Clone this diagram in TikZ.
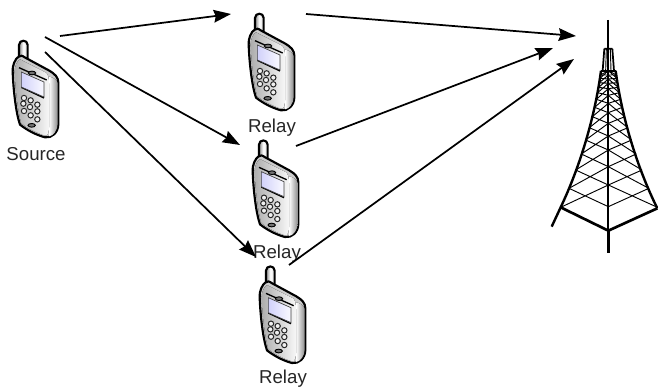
\documentclass[tikz,border=0pt]{standalone}
\usepackage{fontspec}
\setmainfont{Liberation Sans}
\usetikzlibrary{arrows.meta}
\tikzset{
  lab/.style={font=\fontsize{14}{16}\selectfont,text=black!85,inner sep=0pt},
  conn/.style={line width=1.3pt,-{Stealth[length=13pt,width=9.5pt,inset=1.5pt]}},
  outline/.style={draw=black,line width=1.6pt,line join=round},
  key/.style={draw=black!85,line width=.75pt,fill=black!6},
  leg/.style={line width=1.8pt,line cap=butt},
  lat/.style={line width=.7pt}
}
\newcommand{\phoneat}[2]{%
\begin{scope}[shift={(#1,#2)},x=.25pt,y=-.25pt]
  % antenna
  \draw[outline,left color=black!45,right color=black!15,middle color=white] (57,100) -- (57,45) .. controls (57,28) and (83,28) .. (83,45) -- (83,110) -- cycle;
  % body
  \draw[outline,fill=black!20]
    (38,125) .. controls (36,108) and (46,85) .. (56,80)
    .. controls (62,76) and (66,76) .. (74,82)
    -- (148,122) .. controls (165,132) and (175,142) .. (175,158)
    -- (175,282) .. controls (175,308) and (155,325) .. (135,322)
    .. controls (105,314) and (78,298) .. (60,284)
    .. controls (48,250) and (40,180) .. (38,125) -- cycle;
  % right strip
  \fill[left color=white,right color=black!45] (147,140) .. controls (160,142) and (172,150) .. (173,160) -- (173,282) .. controls (173,300) and (160,318) .. (147,319) -- cycle;
  % front face
  \fill[left color=black!32,right color=black!3] (44,124) .. controls (44,108) and (52,92) .. (60,88)
    -- (138,128) .. controls (144,132) and (147,145) .. (147,160)
    -- (147,292) .. controls (147,308) and (142,318) .. (135,317)
    .. controls (108,308) and (82,294) .. (64,280) .. controls (54,245) and (46,180) .. (44,124) -- cycle;
  \draw[line width=1pt] (57,113) -- (140,150) (64,172) -- (132,204);
  % screen
  \draw[black!75,line width=.5pt,left color=black!10!blue!18,right color=blue!2] (64,126) -- (132,156) -- (132,201) -- (64,171) -- cycle;
  % speaker and lower button
  \draw[black,line width=.7pt,fill=black!55] (96,129) ellipse (11 and 5.5);
  \draw[black,line width=.7pt,fill=black!55] (95,286) ellipse (11 and 5.5);
  % keypad
  \foreach \kx/\ky in {72/204,92/211,112/224,70/221,90/231,112/244,72/243,92/256,112/268}
    \draw[key] (\kx,\ky) circle (8);
\end{scope}}
\begin{document}
\begin{tikzpicture}[x=.75pt,y=-.75pt]
\useasboundingbox (0,0) rectangle (658,388);
\fill[white] (0,0) rectangle (658,388);
\phoneat{0}{30}
\phoneat{236}{3}
\phoneat{240}{129.7}
\phoneat{247}{255.7}
% tower
\begin{scope}[shift={(540,10)},x=.25pt,y=-.25pt]
  \foreach \ya/\dxa/\ca/\yb/\dxb/\cb in {592/143/590/535/118/525,535/118/525/480/98/470,480/98/470/432/81/420,432/81/420/390/68/378,390/68/378/353/57/340,353/57/340/320/48/308,320/48/308/292/41/280,292/41/280/268/36/256,268/36/256/248/32/236,248/32/236/232/29/220,232/29/220/218/27/207,218/27/207/205/25/195,205/25/195/195/23.5/182,195/23.5/182/182/22/182}{
    \draw[lat] (205-\dxa,\ya) -- (205,\cb) (205-\dxb,\yb) -- (205,\ca);
    \draw[lat] (205+1.03*\dxa,\ya) -- (205,\cb) (205+1.03*\dxb,\yb) -- (205,\ca);
  }
  \draw[line width=1.3pt] (205,30) -- (205,662);
  \draw[line width=2.3pt] (205,662) -- (205,730);
  \draw[line width=1.3pt] (193,116) -- (217,116) (193,116) -- (188,182) (217,116) -- (222,182);
  \draw[line width=.7pt] (199,116) -- (197,182) (211,116) -- (213,182);
  \draw[leg] (183,182) .. controls (165,320) and (120,470) .. (62,592) -- (35,650);
  \draw[leg] (227,182) .. controls (245,320) and (290,470) .. (352,595);
  \draw[line width=2pt] (62,592) -- (205,662) -- (352,595);
  \draw[line width=1.3pt] (183,182) -- (227,182);
\end{scope}
% labels
\node[lab] (src) at (36,154) {Source};
\node[lab] (r1) at (272,128) {Relay};
\node[lab] (r2) at (277,254) {Relay};
\node[lab] (r3) at (283,379) {Relay};
% connector ends
\coordinate (sa) at (60,36);
\coordinate (sb) at (45,37);
\coordinate (sc) at (45,52);
\coordinate (ra) at (231,14);
\coordinate (rb) at (240,145);
\coordinate (rc) at (256,257);
\coordinate (oa) at (306,14);
\coordinate (ob) at (296,146);
\coordinate (oc) at (289,265);
\coordinate (ta) at (576,36);
\coordinate (tb) at (553,48);
\coordinate (tc) at (574,59);
\draw[conn] (sa) -- (ra);
\draw[conn] (sb) -- (rb);
\draw[conn] (sc) -- (rc);
\draw[conn] (oa) -- (ta);
\draw[conn] (ob) -- (tb);
\draw[conn] (oc) -- (tc);
\end{tikzpicture}
\end{document}
